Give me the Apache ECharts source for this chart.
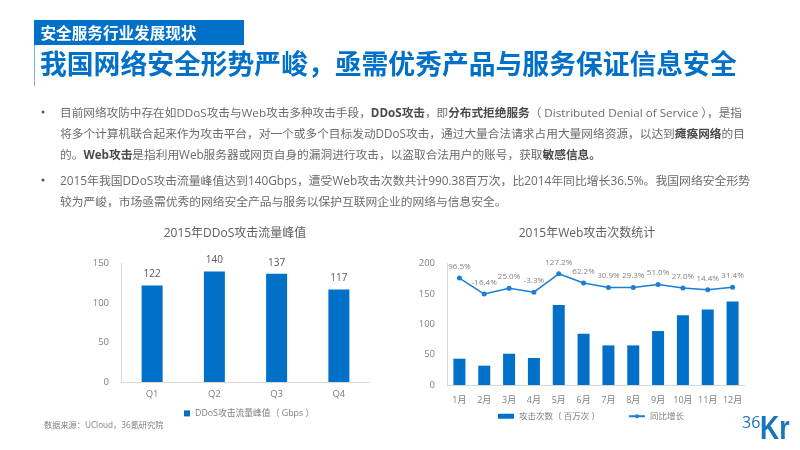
<!DOCTYPE html>
<html>
<head>
<meta charset="utf-8">
<title>我国网络安全形势严峻</title>
<style>
    html, body {margin: 0; padding: 0; background: #fff;}
    #main {width: 800px; height: 450px;}
</style>
<script src="https://cdn.jsdelivr.net/npm/echarts@6/dist/echarts.min.js"></script>
</head>
<body>
<div id="main"></div>
<script>
    //  左图：DDoS
    const quarters = ['Q1', 'Q2', 'Q3', 'Q4'];
    const ddosPeak = [122, 140, 137, 117];

    //  右图：Web
    const months = ['1月', '2月', '3月', '4月', '5月', '6月', '7月', '8月', '9月', '10月', '11月', '12月'];
    const webAttacks = [43.3, 31.8, 51.5, 44.4, 131.5, 84.4, 65.2, 65.2, 88.8, 115, 124.4, 137.5];
    const webGrowth = [96.5, -16.4, 25.0, -3.3, 127.2, 62.2, 30.9, 29.3, 51.0, 27.0, 14.4, 31.4];

    //  正文，b 开头的是加粗
    const bodyLines = [
        [['n', '目前网络攻防中存在如DDoS攻击与Web攻击多种攻击手段，'], ['b', 'DDoS攻击'], ['n', '，即'], ['b', '分布式拒绝服务'], ['n', '（ Distributed Denial of Service ），是指']],
        [['n', '将多个计算机联合起来作为攻击平台，对一个或多个目标发动DDoS攻击，通过大量合法请求占用大量网络资源，以达到'], ['b', '瘫痪网络'], ['n', '的目']],
        [['n', '的。'], ['b', 'Web攻击'], ['n', '是指利用Web服务器或网页自身的漏洞进行攻击，以盗取合法用户的账号，获取'], ['b', '敏感信息。']],
        [['n', '2015年我国DDoS攻击流量峰值达到140Gbps，遭受Web攻击次数共计990.38百万次，比2014年同比增长36.5%。我国网络安全形势']],
        [['n', '较为严峻，市场亟需优秀的网络安全产品与服务以保护互联网企业的网络与信息安全。']],
    ];

    const bodyLineY = [113.5, 134.5, 155.5, 181.5, 202.5];
    const bodyLineSize = [11.65, 11.7, 11.7, 11.84, 11.75];
    const bulletY = [112, 180];

    const FONT = '"Open Sans", "Noto Sans CJK SC", sans-serif';
    const BLUE = '#0070C8';
    const LINE_BLUE = '#1A7FD6';
    const TEXT = '#6b6b6b';
    const AXIS_TEXT = '#7f7f7f';
    const AXIS_LINE = '#d9d9d9';

    function text(x, y, str, size, color, weight, align) {
        return {
            type: 'text',
            x: x,
            y: y,
            style: {
                text: str,
                fontFamily: FONT,
                fontSize: size,
                fontWeight: weight || 'normal',
                fill: color,
                align: align || 'left',
                verticalAlign: 'middle',
            },
        };
    }

    //  正文一行，分段加粗用 rich
    function bodyLine(segments, y, size) {
        const el = text(60, y, segments.map(function (s) {
            return '{' + s[0] + '|' + s[1] + '}';
        }).join(''), size, TEXT);
        el.style.rich = {
            n: {fontFamily: FONT, fontSize: size, fill: TEXT, color: TEXT},
            b: {fontFamily: FONT, fontSize: size, fontWeight: 'bold', fill: '#4a4a4a', color: '#4a4a4a'},
        };
        return el;
    }

    function buildGraphic() {
        const els = [
            {type: 'rect', shape: {x: 34, y: 20, width: 210, height: 25}, style: {fill: BLUE}},
            {type: 'rect', shape: {x: 34, y: 45, width: 1, height: 41}, style: {fill: '#7ab5e3'}},
            text(40.5, 34.5, '安全服务行业发展现状', 15.6, '#fff', 'bold'),
            text(40, 66, '我国网络安全形势严峻，亟需优秀产品与服务保证信息安全', 26.8, BLUE, 'bold'),
            text(44, 426, '数据来源：UCloud，36氪研究院', 8.2, '#7f7f7f'),
            //  logo
            text(742, 423, '36', 16, '#1B75BC'),
            {
                type: 'text', x: 760, y: 430, scaleX: 0.78,
                style: {
                    text: 'Kr', fontFamily: '"Liberation Sans", sans-serif', fontSize: 34, fontWeight: 'bold',
                    fill: '#1B75BC', align: 'left', verticalAlign: 'middle',
                },
            },
        ];
        bulletY.forEach(function (y) {
            els.push({type: 'circle', shape: {cx: 43, cy: y, r: 1.5}, style: {fill: '#555'}});
        });
        bodyLines.forEach(function (line, i) {
            els.push(bodyLine(line, bodyLineY[i], bodyLineSize[i]));
        });
        return els;
    }

    function axisLabel(size, margin) {
        return {color: AXIS_TEXT, fontFamily: FONT, fontSize: size, margin: margin, interval: 0};
    }

    const titleStyle = {color: '#5f5f5f', fontFamily: FONT, fontSize: 12, fontWeight: 'normal'};

    const option = {
        animation: false,
        backgroundColor: '#fff',
        title: [
            {text: '2015年DDoS攻击流量峰值', left: 235, top: 228, textAlign: 'center', padding: 0, textStyle: titleStyle},
            {text: '2015年Web攻击次数统计', left: 587, top: 228, textAlign: 'center', padding: 0, textStyle: titleStyle},
        ],
        legend: [
            {
                left: 184, top: 409, padding: 0, itemWidth: 6, itemHeight: 6,
                data: [{name: 'DDoS攻击流量峰值（ Gbps ）', icon: 'rect'}],
                textStyle: {color: AXIS_TEXT, fontFamily: FONT, fontSize: 8.8},
            },
            {
                left: 498, top: 412, padding: 0, itemWidth: 16, itemHeight: 5, itemGap: 28,
                data: [{name: '攻击次数（ 百万次 ）', icon: 'rect'}, {name: '同比增长'}],
                textStyle: {color: AXIS_TEXT, fontFamily: FONT, fontSize: 8.5},
            },
        ],
        grid: [
            {left: 121, right: 430, top: 263.5, bottom: 68},
            {left: 447, right: 55, top: 263.5, bottom: 65},
        ],
        xAxis: [
            {
                type: 'category', gridIndex: 0, data: quarters,
                axisLine: {lineStyle: {color: AXIS_LINE}}, axisTick: {show: false},
                axisLabel: axisLabel(9.5, 8),
            },
            {
                type: 'category', gridIndex: 1, data: months,
                axisLine: {lineStyle: {color: AXIS_LINE}}, axisTick: {show: false},
                axisLabel: axisLabel(9, 11),
            },
        ],
        yAxis: [
            {
                type: 'value', gridIndex: 0, min: 0, max: 150, interval: 50,
                axisLine: {show: true, lineStyle: {color: AXIS_LINE}}, axisTick: {show: false},
                splitLine: {show: false}, axisLabel: axisLabel(9.5, 12),
            },
            {
                type: 'value', gridIndex: 1, min: 0, max: 200, interval: 50,
                axisLine: {show: true, lineStyle: {color: AXIS_LINE}}, axisTick: {show: false},
                splitLine: {show: false}, axisLabel: axisLabel(9.5, 12),
            },
            //  同比增长的隐藏轴，把折线托到柱子上方
            {type: 'value', gridIndex: 1, min: -660, max: 200, show: false, splitLine: {show: false}},
        ],
        series: [
            {
                name: 'DDoS攻击流量峰值（ Gbps ）', type: 'bar', xAxisIndex: 0, yAxisIndex: 0,
                data: ddosPeak, barWidth: 21, itemStyle: {color: BLUE},
                label: {show: true, position: 'top', distance: 6, color: '#595959', fontFamily: FONT, fontSize: 10},
            },
            {
                name: '攻击次数（ 百万次 ）', type: 'bar', xAxisIndex: 1, yAxisIndex: 1,
                data: webAttacks, barWidth: 12, itemStyle: {color: BLUE},
            },
            {
                name: '同比增长', type: 'line', xAxisIndex: 1, yAxisIndex: 2,
                data: webGrowth, symbol: 'circle', symbolSize: 5,
                lineStyle: {color: LINE_BLUE, width: 1.5}, itemStyle: {color: LINE_BLUE},
                label: {
                    show: true, position: 'top', distance: 5, color: AXIS_TEXT, fontFamily: FONT, fontSize: 8,
                    formatter: function (p) {
                        return p.value.toFixed(1) + '%';
                    },
                },
            },
        ],
        graphic: {elements: buildGraphic()},
    };

    const myChart = echarts.init(document.getElementById('main'));
    myChart.setOption(option);
</script>
</body>
</html>
